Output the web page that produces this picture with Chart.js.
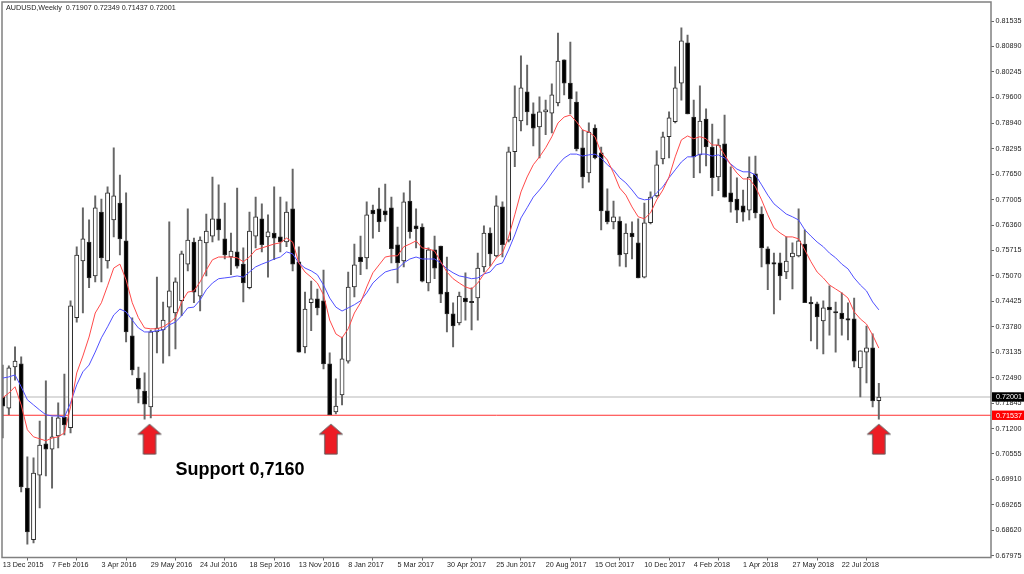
<!DOCTYPE html>
<html>
<head>
<meta charset="utf-8">
<title>AUDUSD Weekly</title>
<script src="https://cdn.jsdelivr.net/npm/chart.js@4"></script>
<style>
  html, body { margin: 0; padding: 0; background: #fff; }
  canvas { display: block; }
</style>
</head>
<body>
<canvas id="chart" width="1024" height="574"></canvas>
<script>
/* ===============================
   DATA
=============================== */
const opens = [
  .7200,.7172,.7276,.7284,.6969,.6838,.7002,.7081,.7068,.7101,
  .7149,.7122,.7401,.7545,.7593,.7507,.7669,.7545,.7649,.7692,
  .7596,.7355,.7248,.7215,.7175,.7365,.7370,.7428,.7413,.7444,
  .7537,.7593,.7456,.7591,.7608,.7652,.7601,.7555,.7568,.7537,
  .7477,.7608,.7652,.7606,.7616,.7606,.7593,.7677,.7543,.7327,
  .7439,.7449,.7444,.7284,.7162,.7205,.7291,.7479,.7555,.7553,
  .7674,.7677,.7672,.7680,.7586,.7545,.7697,.7634,.7631,.7489,
  .7573,.7583,.7466,.7411,.7388,.7451,.7441,.7451,.7530,.7616,
  .7558,.7682,.7598,.7822,.7900,.7974,.7918,.7885,.7923,.7920,
  .7946,.8055,.7996,.7948,.7832,.7768,.7882,.7819,.7672,.7644,
  .7646,.7563,.7616,.7591,.7504,.7642,.7710,.7804,.7860,.7898,
  .7996,.8098,.7910,.7814,.7905,.7834,.7758,.7842,.7718,.7702,
  .7685,.7674,.7766,.7664,.7576,.7540,.7540,.7517,.7555,.7558,
  .7588,.7439,.7436,.7393,.7428,.7416,.7413,.7398,.7398,.7274,
  .7314,.7325,.71907
];
const highs = [
  .7281,.7279,.7327,.7302,.7048,.7046,.7139,.7241,.7149,.7185,
  .7258,.7444,.7581,.7680,.7649,.7710,.7702,.7733,.7832,.7763,
  .7718,.7401,.7276,.7261,.7370,.7504,.7441,.7644,.7502,.7570,
  .7677,.7603,.7606,.7664,.7758,.7738,.7692,.7616,.7730,.7578,
  .7669,.7707,.7690,.7662,.7733,.7707,.7695,.7778,.7581,.7466,
  .7494,.7474,.7522,.7312,.7246,.7352,.7517,.7588,.7608,.7695,
  .7687,.7730,.7740,.7707,.7631,.7718,.7748,.7677,.7639,.7578,
  .7608,.7583,.7555,.7439,.7466,.7515,.7477,.7565,.7634,.7629,
  .7710,.7695,.7834,.7989,.8065,.8042,.7946,.7961,.7953,.7994,
  .8123,.8055,.8100,.7974,.7877,.7895,.7890,.7834,.7728,.7697,
  .7657,.7639,.7644,.7652,.7692,.7720,.7824,.7872,.7923,.8037,
  .8136,.8118,.7953,.7989,.7931,.7892,.7854,.7915,.7784,.7756,
  .7725,.7809,.7811,.7682,.7581,.7565,.7565,.7606,.7591,.7677,
  .7624,.7454,.7441,.7444,.7482,.7441,.7464,.7439,.7451,.7317,
  .7380,.7360,.72349
];
const lows = [
  .7096,.7155,.7243,.6959,.6827,.6830,.6919,.7000,.6969,.7071,
  .7104,.7109,.7390,.7413,.7477,.7492,.7492,.7527,.7606,.7560,
  .7340,.7256,.7185,.7144,.7147,.7312,.7286,.7304,.7322,.7406,
  .7520,.7439,.7418,.7507,.7593,.7598,.7550,.7510,.7527,.7441,
  .7474,.7578,.7568,.7504,.7548,.7568,.7581,.7520,.7314,.7312,
  .7368,.7408,.7271,.7155,.7157,.7180,.7286,.7454,.7510,.7525,
  .7603,.7619,.7646,.7540,.7489,.7530,.7603,.7578,.7492,.7469,
  .7500,.7439,.7365,.7327,.7383,.7395,.7370,.7395,.7517,.7532,
  .7555,.7555,.7593,.7784,.7875,.7890,.7837,.7806,.7865,.7870,
  .7938,.7966,.7918,.7824,.7730,.7745,.7804,.7624,.7639,.7626,
  .7532,.7530,.7550,.7502,.7502,.7639,.7707,.7791,.7806,.7895,
  .7953,.7918,.7756,.7768,.7786,.7710,.7723,.7707,.7669,.7642,
  .7646,.7649,.7654,.7530,.7472,.7411,.7446,.7500,.7474,.7555,
  .7439,.7342,.7322,.7309,.7357,.7314,.7357,.7345,.7276,.7200,
  .7236,.7175,.71437
];
const closes = [
  .7177,.7274,.7291,.6972,.6858,.7007,.7078,.7068,.7099,.7147,
  .7129,.7431,.7560,.7601,.7502,.7680,.7553,.7718,.7710,.7601,
  .7365,.7269,.7220,.7182,.7365,.7375,.7395,.7469,.7492,.7563,
  .7598,.7466,.7598,.7621,.7652,.7624,.7560,.7570,.7532,.7489,
  .7621,.7657,.7586,.7619,.7603,.7593,.7669,.7537,.7314,.7423,
  .7449,.7426,.7284,.7155,.7177,.7297,.7479,.7535,.7543,.7662,
  .7664,.7644,.7662,.7576,.7540,.7695,.7619,.7626,.7494,.7573,
  .7527,.7461,.7411,.7380,.7456,.7441,.7439,.7527,.7616,.7563,
  .7685,.7586,.7822,.7910,.7984,.7923,.7882,.7923,.7928,.7966,
  .8052,.7996,.7956,.7829,.7758,.7872,.7806,.7672,.7644,.7657,
  .7560,.7616,.7606,.7502,.7642,.7707,.7789,.7860,.7908,.7984,
  .8103,.7918,.7809,.7900,.7834,.7756,.7839,.7707,.7695,.7674,
  .7669,.7758,.7667,.7578,.7537,.7537,.7507,.7545,.7565,.7596,
  .7439,.7436,.7403,.7426,.7421,.7413,.7398,.7395,.7291,.7317,
  .7325,.7190,.72001
];
const redMa = [
  .7198,.7210,.7226,.7180,.7117,.7099,.7094,.7089,.7096,.7099,
  .7109,.7175,.7261,.7304,.7352,.7413,.7439,.7482,.7527,.7537,
  .7497,.7439,.7401,.7375,.7373,.7373,.7378,.7388,.7401,.7441,
  .7466,.7469,.7492,.7522,.7548,.7555,.7555,.7555,.7553,.7543,
  .7555,.7573,.7578,.7583,.7588,.7591,.7603,.7593,.7540,.7517,
  .7504,.7489,.7459,.7395,.7360,.7350,.7373,.7413,.7439,.7479,
  .7515,.7535,.7555,.7558,.7558,.7581,.7588,.7596,.7578,.7576,
  .7570,.7543,.7517,.7500,.7489,.7479,.7474,.7489,.7512,.7530,
  .7553,.7565,.7606,.7662,.7720,.7758,.7789,.7809,.7832,.7860,
  .7895,.7910,.7915,.7898,.7877,.7872,.7860,.7819,.7801,.7768,
  .7730,.7712,.7682,.7657,.7652,.7667,.7700,.7725,.7758,.7809,
  .7852,.7862,.7855,.7860,.7855,.7839,.7839,.7814,.7789,.7768,
  .7753,.7753,.7733,.7700,.7662,.7629,.7616,.7606,.7606,.7601,
  .7573,.7543,.7517,.7502,.7484,.7474,.7464,.7451,.7416,.7398,
  .7385,.7357,.7324
];
const blueMa = [
  .7248,.7251,.7256,.7226,.7193,.7180,.7167,.7155,.7152,.7152,
  .7149,.7185,.7231,.7264,.7281,.7314,.7350,.7378,.7408,.7423,
  .7416,.7395,.7375,.7365,.7365,.7368,.7370,.7383,.7390,.7406,
  .7426,.7428,.7446,.7472,.7489,.7500,.7502,.7504,.7507,.7504,
  .7517,.7530,.7537,.7543,.7550,.7555,.7568,.7563,.7540,.7527,
  .7520,.7510,.7484,.7451,.7428,.7418,.7426,.7434,.7444,.7464,
  .7489,.7504,.7517,.7522,.7525,.7540,.7550,.7555,.7550,.7550,
  .7550,.7540,.7525,.7515,.7507,.7504,.7500,.7502,.7512,.7517,
  .7535,.7540,.7573,.7611,.7654,.7680,.7707,.7725,.7745,.7768,
  .7789,.7806,.7816,.7816,.7811,.7814,.7816,.7806,.7789,.7776,
  .7756,.7743,.7725,.7705,.7700,.7702,.7718,.7733,.7756,.7776,
  .7796,.7809,.7809,.7816,.7816,.7811,.7814,.7806,.7791,.7778,
  .7771,.7771,.7763,.7738,.7712,.7690,.7677,.7664,.7657,.7649,
  .7624,.7608,.7593,.7581,.7565,.7553,.7537,.7525,.7502,.7484,
  .7469,.7441,.7421
];
const yTicks = [
  .81535,.80890,.80245,.79600,.78940,.78295,.77650,.77005,.76360,.75715,.75070,
  .74425,.73780,.73135,.72490,.71845,.71200,.70555,.69910,.69265,.68620,.67975
];
const xTickLabels = [
  '13 Dec 2015','7 Feb 2016','3 Apr 2016','29 May 2016','24 Jul 2016','18 Sep 2016',
  '13 Nov 2016','8 Jan 2017','5 Mar 2017','30 Apr 2017','25 Jun 2017','20 Aug 2017',
  '15 Oct 2017','10 Dec 2017','4 Feb 2018','1 Apr 2018','27 May 2018','22 Jul 2018'
];
const xTickStep = 8;            // one date label every 8 weeks
const bidPrice = .72001;
const supportPrice = .71537;
const arrowBars = [23.8, 53.2, 142];
const arrowPrice = .7093;
const headerText = 'AUDUSD,Weekly  0.71907 0.72349 0.71437 0.72001';
const supportText = 'Support 0,7160';
const supportTextBar = 28;
const supportTextPrice = .7014;

/* ===============================
   SCALE RANGE
=============================== */
const xMin = -0.11, xMax = 160.18;
const yMin = .6793, yMax = .82017;

/* ===============================
   HELPERS
=============================== */
const LABEL_FONT = '7.2px "Liberation Sans", Arial, sans-serif';

const toXY = arr => arr.map((v, i) => ({ x: i, y: v }));

// the axes would otherwise reserve room for half of their first and last label
const noMargins = s => {
  s.paddingLeft = s.paddingRight = s.paddingTop = s.paddingBottom = 0;
};

function makeArrow() {
  const c = document.createElement('canvas');
  c.width = 26;
  c.height = 32;
  const g = c.getContext('2d');
  g.beginPath();
  g.moveTo(13, 1); g.lineTo(24.5, 11); g.lineTo(19.2, 11); g.lineTo(19.2, 31);
  g.lineTo(6.8, 31); g.lineTo(6.8, 11); g.lineTo(1.5, 11); g.closePath();
  g.fillStyle = '#ed1c24';
  g.fill();
  g.strokeStyle = '#5a5a5a';
  g.lineWidth = 1;
  g.stroke();
  return c;
}

/* ===============================
   TEXT + FRAME OVERLAY
=============================== */
const overlay = {
  id: 'overlay',
  afterDraw(chart) {
    const { ctx, chartArea: a, scales: { x, y } } = chart;
    ctx.save();

    ctx.strokeStyle = '#808080';
    ctx.lineWidth = 1.5;
    ctx.strokeRect(a.left, a.top, a.right - a.left, a.bottom - a.top);

    ctx.textBaseline = 'middle';
    ctx.fillStyle = '#222';
    ctx.font = LABEL_FONT;
    ctx.fillText(headerText, 6, 8.5);

    ctx.fillStyle = '#000';
    ctx.font = 'bold 18px "Liberation Sans", Arial, sans-serif';
    ctx.fillText(supportText, x.getPixelForValue(supportTextBar), y.getPixelForValue(supportTextPrice));

    // price tags on the axis
    [[bidPrice, '#000'], [supportPrice, '#f00']].forEach(([p, col]) => {
      const py = y.getPixelForValue(p);
      ctx.fillStyle = col;
      ctx.fillRect(a.right + 1, py - 4.7, 1024 - a.right, 9.4);
      ctx.fillStyle = '#fff';
      ctx.font = LABEL_FONT;
      ctx.fillText(p.toFixed(5), a.right + 5, py + 0.5);
    });
    ctx.restore();
  }
};

/* ===============================
   CHART
=============================== */
new Chart(document.getElementById('chart'), {
  type: 'bar',
  data: {
    datasets: [
      {
        type: 'line', label: 'arrows', order: -1, showLine: false,
        data: arrowBars.map(b => ({ x: b, y: arrowPrice })),
        pointStyle: makeArrow(), pointRadius: 10
      },
      {
        type: 'line', label: 'MA fast', order: 0,
        data: toXY(redMa), borderColor: '#ff4a4a', borderWidth: 1, pointRadius: 0
      },
      {
        type: 'line', label: 'MA slow', order: 0,
        data: toXY(blueMa), borderColor: '#5050ff', borderWidth: 1, pointRadius: 0
      },
      {
        label: 'body', order: 1, grouped: false, barThickness: 4.2, minBarLength: 1.5,
        data: opens.map((o, i) => ({ x: i, y: [o, closes[i]] })),
        backgroundColor: opens.map((o, i) => closes[i] >= o ? '#fff' : '#000'),
        borderColor: '#2a2a2a', borderWidth: 1, borderSkipped: false
      },
      {
        label: 'wick', order: 2, grouped: false, barThickness: 1.3,
        data: lows.map((l, i) => ({ x: i, y: [l, highs[i]] })),
        backgroundColor: '#666'
      },
      {
        type: 'line', label: 'bid', order: 3,
        data: [{ x: xMin, y: bidPrice }, { x: xMax, y: bidPrice }],
        borderColor: '#cfcfcf', borderWidth: 1.5, pointRadius: 0
      },
      {
        type: 'line', label: 'support', order: 3,
        data: [{ x: xMin, y: supportPrice }, { x: xMax, y: supportPrice }],
        borderColor: '#ff3030', borderWidth: 1, pointRadius: 0
      }
    ]
  },
  options: {
    responsive: false,
    animation: false,
    events: [],
    layout: { autoPadding: false, padding: { left: 2, top: 2, right: 0, bottom: 0 } },
    plugins: { legend: { display: false }, tooltip: { enabled: false } },
    scales: {
      x: {
        type: 'linear', min: xMin, max: xMax, offset: false,
        afterBuildTicks: s => { s.ticks = xTickLabels.map((_, i) => ({ value: i * xTickStep })); },
        afterFit: s => { s.height = 16.5; noMargins(s); },
        grid: { drawOnChartArea: false, tickLength: 3, color: '#666' },
        border: { display: false },
        ticks: {
          autoSkip: false, maxRotation: 0, align: 'start', padding: 0,
          color: '#222', font: { family: '"Liberation Sans", Arial, sans-serif', size: 7.2 },
          callback: v => xTickLabels[Math.round(v / xTickStep)]
        }
      },
      y: {
        type: 'linear', position: 'right', min: yMin, max: yMax,
        afterBuildTicks: s => { s.ticks = yTicks.map(v => ({ value: v })); },
        afterFit: s => { s.width = 33; noMargins(s); },
        grid: { drawOnChartArea: false, tickLength: 3, color: '#666' },
        border: { display: false },
        ticks: {
          autoSkip: false, padding: 1.5,
          color: '#222', font: { family: '"Liberation Sans", Arial, sans-serif', size: 7.2 },
          callback: v => v.toFixed(5)
        }
      }
    }
  },
  plugins: [overlay]
});
</script>
</body>
</html>
